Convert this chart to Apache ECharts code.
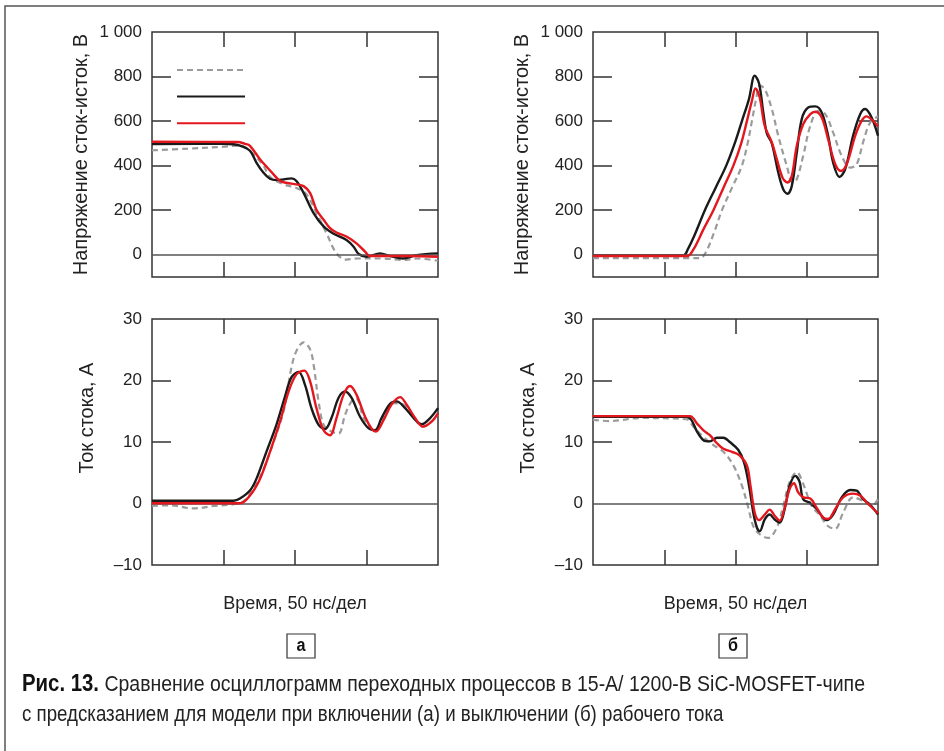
<!DOCTYPE html>
<html>
<head>
<meta charset="utf-8">
<script src="https://cdn.jsdelivr.net/npm/echarts@6/dist/echarts.min.js"></script>
<style>
  html, body { margin: 0; padding: 0; background: #fff; }
  #chart { width: 944px; height: 751px; }
</style>
</head>
<body>
<div id="chart"></div>
<script>
var names = ['Эксперимент', 'Модель 1', 'Модель 2'];

// (а) напряжение сток-исток при включении, В
var uOnMeas = [[0,469],[0.5,476],[1.0,485],[1.2,490],[1.3,480],[1.4,458],[1.56,399],[1.65,350],[1.84,316],[2.02,300],[2.16,272],[2.3,187],[2.44,97],[2.58,6],[2.72,-22],[2.86,-17],[3.24,-17],[3.51,-24],[3.7,-17],[4.0,-27]];
var uOnSim1 = [[0,497],[1.0,498],[1.14,496],[1.25,488],[1.37,467],[1.46,414],[1.56,368],[1.65,341],[1.74,335],[1.84,338],[1.95,343],[2.02,331],[2.12,278],[2.26,187],[2.4,127],[2.54,94],[2.72,66],[2.82,36],[2.89,3],[3.0,-9],[3.19,6],[3.33,-6],[3.51,-17],[3.7,-2],[4.0,6]];
var uOnSim2 = [[0,507],[1.2,506],[1.3,498],[1.37,489],[1.51,429],[1.6,396],[1.7,361],[1.79,331],[1.88,323],[2.02,316],[2.12,308],[2.21,278],[2.3,202],[2.4,157],[2.49,119],[2.58,100],[2.72,82],[2.86,51],[2.98,14],[3.05,-6],[3.24,-6],[3.6,-6],[4.0,-9]];

// (б) напряжение сток-исток при выключении, В
var uOffMeas = [[0,-15],[1.5,-15],[1.58,9],[1.7,100],[1.81,200],[1.95,300],[2.09,400],[2.17,500],[2.23,600],[2.29,700],[2.34,759],[2.41,744],[2.51,654],[2.6,534],[2.72,399],[2.8,324],[2.86,339],[2.95,444],[3.05,579],[3.16,646],[3.26,631],[3.37,549],[3.49,444],[3.61,391],[3.7,406],[3.79,504],[3.89,594],[4.0,621]];
var uOffSim1 = [[0,-3],[1.27,-3],[1.33,24],[1.42,84],[1.57,200],[1.72,300],[1.87,400],[2.0,510],[2.09,600],[2.19,700],[2.27,804],[2.33,770],[2.39,639],[2.44,545],[2.51,500],[2.6,369],[2.67,294],[2.73,274],[2.79,309],[2.86,459],[2.93,609],[3.02,661],[3.12,666],[3.21,639],[3.3,534],[3.37,414],[3.46,349],[3.54,384],[3.65,534],[3.75,631],[3.82,654],[3.91,616],[4.0,534]];
var uOffSim2 = [[0,-6],[1.32,-6],[1.41,24],[1.55,114],[1.69,200],[1.83,300],[1.97,400],[2.08,500],[2.16,600],[2.23,690],[2.28,747],[2.34,706],[2.41,579],[2.51,504],[2.58,429],[2.66,346],[2.73,324],[2.79,354],[2.86,489],[2.95,586],[3.05,631],[3.12,642],[3.21,616],[3.3,519],[3.4,406],[3.48,376],[3.56,406],[3.68,534],[3.77,601],[3.84,621],[3.93,601],[4.0,576]];

// (а) ток стока при включении, А
var iOnMeas = [[0,-0.4],[0.25,-0.3],[0.58,-0.8],[0.86,-0.4],[1.14,-0.1],[1.28,0.4],[1.42,2.4],[1.56,5.6],[1.7,10.0],[1.84,15.0],[1.95,22.1],[2.02,24.8],[2.12,26.2],[2.21,25.1],[2.26,22.6],[2.33,16.6],[2.4,12.8],[2.51,11.7],[2.61,11.4],[2.7,14.4],[2.79,16.6],[2.86,17.0],[2.96,13.9],[3.1,11.9],[3.24,13.9],[3.38,16.3],[3.51,16.1],[3.66,13.9],[3.79,12.5],[4.0,14.4]];
var iOnSim1 = [[0,0.44],[1.14,0.44],[1.23,0.8],[1.37,2.1],[1.46,4.0],[1.6,8.4],[1.74,12.8],[1.86,17.4],[1.95,20.5],[2.05,21.4],[2.14,19.3],[2.23,15.5],[2.33,12.8],[2.42,12.1],[2.51,13.9],[2.61,17.2],[2.7,18.2],[2.79,17.2],[2.91,14.1],[3.03,12.2],[3.12,11.9],[3.21,13.9],[3.33,16.2],[3.42,16.6],[3.54,15.5],[3.66,13.9],[3.77,12.9],[3.89,13.9],[4.0,15.5]];
var iOnSim2 = [[0,0.05],[1.23,0.05],[1.37,1.3],[1.51,4.0],[1.65,8.4],[1.79,13.3],[1.91,18.2],[2.02,21.0],[2.13,21.6],[2.21,19.9],[2.3,15.5],[2.4,11.9],[2.49,11.1],[2.58,13.9],[2.68,17.7],[2.77,19.1],[2.86,17.7],[2.98,14.1],[3.07,12.2],[3.13,11.7],[3.24,13.6],[3.35,16.1],[3.47,17.3],[3.56,16.1],[3.68,13.9],[3.79,12.5],[3.91,13.3],[4.0,14.7]];

// (б) ток стока при выключении, А
var iOffMeas = [[0,13.6],[0.24,13.4],[0.66,13.9],[1.31,13.7],[1.41,12.5],[1.55,10.8],[1.69,9.5],[1.83,8.4],[1.97,6.2],[2.09,2.9],[2.18,-0.7],[2.25,-3.7],[2.34,-5.0],[2.46,-5.6],[2.58,-3.9],[2.67,-0.4],[2.76,3.5],[2.86,5.1],[2.95,3.2],[3.07,-0.4],[3.19,-2.0],[3.3,-3.7],[3.4,-4.1],[3.51,-1.5],[3.65,1.0],[3.79,0.4],[3.91,-0.4],[4.0,0.7]];
var iOffSim1 = [[0,14.1],[1.31,14.1],[1.38,13.6],[1.46,11.7],[1.55,10.3],[1.64,10.1],[1.74,10.7],[1.83,10.7],[1.92,10.0],[2.04,8.7],[2.12,6.7],[2.19,2.9],[2.25,-1.5],[2.3,-3.9],[2.34,-4.5],[2.41,-2.6],[2.48,-1.8],[2.55,-2.6],[2.62,-3.1],[2.69,-0.9],[2.76,2.9],[2.84,4.5],[2.9,3.5],[2.95,0.7],[3.05,0.05],[3.14,-0.9],[3.23,-2.3],[3.28,-2.7],[3.37,-1.8],[3.49,1.0],[3.61,2.2],[3.7,2.1],[3.79,0.7],[3.89,-0.2],[4.0,-1.8]];
var iOffSim2 = [[0,14.2],[1.36,14.2],[1.46,13.0],[1.55,11.9],[1.64,11.1],[1.74,9.8],[1.83,8.9],[1.95,8.4],[2.06,7.8],[2.16,6.2],[2.21,2.9],[2.27,-1.5],[2.33,-2.7],[2.41,-1.8],[2.48,-1.0],[2.55,-2.0],[2.62,-2.8],[2.69,-0.7],[2.76,2.4],[2.82,3.3],[2.88,1.8],[2.95,1.0],[3.05,0.8],[3.14,-0.7],[3.23,-2.3],[3.3,-2.5],[3.4,-0.9],[3.51,1.0],[3.65,1.6],[3.75,1.3],[3.84,0.2],[4.0,-1.6]];

var uTicks = [0, 200, 400, 600, 800, 1000];
var iTicks = [-10, 0, 10, 20, 30];

var axisColor = '#333';
var labelFont = 'Liberation Sans, Arial, sans-serif';
var lineColors = ['#9b9b9b', '#1a1a1a', '#e3171e'];

var grids = [
    {left: 152, top: 32, width: 286, height: 245},
    {left: 593, top: 32, width: 285, height: 245},
    {left: 152, top: 319, width: 286, height: 246},
    {left: 593, top: 319, width: 285, height: 246}
];

function makeX(gi, pos, withName) {
    return {
        type: 'value', gridIndex: gi, position: pos, min: 0, max: 4,
        axisLine: {show: false, onZero: false},
        axisTick: {show: true, inside: true, length: 15, customValues: [1, 2, 3],
            lineStyle: {color: axisColor, width: 1.5}},
        axisLabel: {show: false},
        splitLine: {show: false},
        name: withName ? 'Время, 50 нс/дел' : '',
        nameLocation: 'middle', nameGap: 30,
        nameTextStyle: {fontFamily: labelFont, fontSize: 18, color: '#222'}
    };
}

function makeY(gi, pos, isU, withLabels, name, shift) {
    var ticks = isU ? uTicks : iTicks;
    return {
        type: 'value', gridIndex: gi, position: pos,
        min: isU ? -100 : -10, max: isU ? 1000 : 30,
        axisLine: {show: false, onZero: false},
        axisTick: {show: true, inside: true, length: 19,
            customValues: isU ? [200, 400, 600, 800] : [10, 20],
            lineStyle: {color: axisColor, width: 1.5}},
        axisLabel: {show: withLabels, customValues: ticks, margin: 10,
            fontFamily: labelFont, fontSize: 17, color: '#222',
            formatter: function (v) {
                if (v === 1000) return '1 000';
                if (v < 0) return '\u2013' + Math.abs(v);
                return String(v);
            }},
        splitLine: {show: false},
        name: withLabels ? name : '',
        nameLocation: 'middle', nameRotate: 90, nameGap: isU ? 61 : 55,
        nameTextStyle: {fontFamily: labelFont, fontSize: 20, color: '#222',
            padding: [0, 0, 0, shift]}
    };
}

var xAxes = [], yAxes = [];
for (var g = 0; g < 4; g++) {
    var bottomRow = g >= 2;
    xAxes.push(makeX(g, 'bottom', bottomRow));
    xAxes.push(makeX(g, 'top', false));
    yAxes.push(makeY(g, 'left', !bottomRow, true,
        bottomRow ? 'Ток стока, А' : 'Напряжение сток-исток, В', bottomRow ? 48 : 0));
    yAxes.push(makeY(g, 'right', !bottomRow, false, '', 0));
}

var panelData = [
    [uOnMeas, uOnSim1, uOnSim2],
    [uOffMeas, uOffSim1, uOffSim2],
    [iOnMeas, iOnSim1, iOnSim2],
    [iOffMeas, iOffSim1, iOffSim2]
];

var series = [];
panelData.forEach(function (set, gi) {
    set.forEach(function (d, k) {
        var s = {
            name: names[k], type: 'line', data: d,
            xAxisIndex: gi * 2, yAxisIndex: gi * 2,
            symbol: 'none', smooth: 0.35, animation: false,
            z: 3 + k,
            lineStyle: {color: lineColors[k], width: k === 0 ? 2.2 : 2.4,
                type: k === 0 ? [6, 4] : 'solid'},
            itemStyle: {color: lineColors[k]}
        };
        if (k === 0) {
            s.markLine = {
                silent: true, symbol: ['none', 'none'], animation: false,
                label: {show: false},
                lineStyle: {color: '#555', width: 1.5, type: 'solid'},
                data: [{yAxis: 0}]
            };
        }
        series.push(s);
    });
});

var captionFont = 'Liberation Sans, Arial, sans-serif';

var chart = echarts.init(document.getElementById('chart'), null, {renderer: 'canvas'});
chart.setOption({
    backgroundColor: '#fff',
    animation: false,
    grid: grids.map(function (gr) {
        return Object.assign({show: true, borderColor: axisColor, borderWidth: 1.5,
            backgroundColor: 'transparent', containLabel: false}, gr);
    }),
    xAxis: xAxes,
    yAxis: yAxes,
    legend: {
        data: names, orient: 'vertical', left: 171, top: 58,
        itemWidth: 68, itemHeight: 14, itemGap: 14,
        itemStyle: {opacity: 0, borderWidth: 0},
        formatter: function () { return ''; },
        selectedMode: false
    },
    series: series,
    graphic: [
        {type: 'polyline', silent: true,
            shape: {points: [[5, 751], [5, 6], [944, 6]]},
            style: {stroke: '#555', lineWidth: 1.5, fill: null}},
        {type: 'rect', silent: true, shape: {x: 287, y: 634, width: 28, height: 24},
            style: {stroke: '#333', lineWidth: 1.2, fill: '#fff'}},
        {type: 'text', silent: true, x: 301, y: 646, scaleX: 0.9,
            style: {text: 'а', font: 'bold 18px ' + captionFont, fill: '#111',
                align: 'center', verticalAlign: 'middle'}},
        {type: 'rect', silent: true, shape: {x: 719, y: 634, width: 28, height: 24},
            style: {stroke: '#333', lineWidth: 1.2, fill: '#fff'}},
        {type: 'text', silent: true, x: 733, y: 646, scaleX: 0.9,
            style: {text: 'б', font: 'bold 18px ' + captionFont, fill: '#111',
                align: 'center', verticalAlign: 'middle'}},
        {type: 'text', silent: true, x: 22, y: 685, scaleX: 0.885,
            style: {text: '{b|Рис. 13.} Сравнение осциллограмм переходных процессов в 15‑А/ 1200‑В SiC‑MOSFET‑чипе',
                font: '22px ' + captionFont, fill: '#222', verticalAlign: 'middle',
                rich: {b: {font: 'bold 23px ' + captionFont, fill: '#111'}}}},
        {type: 'text', silent: true, x: 22, y: 715, scaleX: 0.85,
            style: {text: 'с предсказанием для модели при включении (а) и выключении (б) рабочего тока',
                font: '22px ' + captionFont, fill: '#222', verticalAlign: 'middle'}}
    ]
});
</script>
</body>
</html>
